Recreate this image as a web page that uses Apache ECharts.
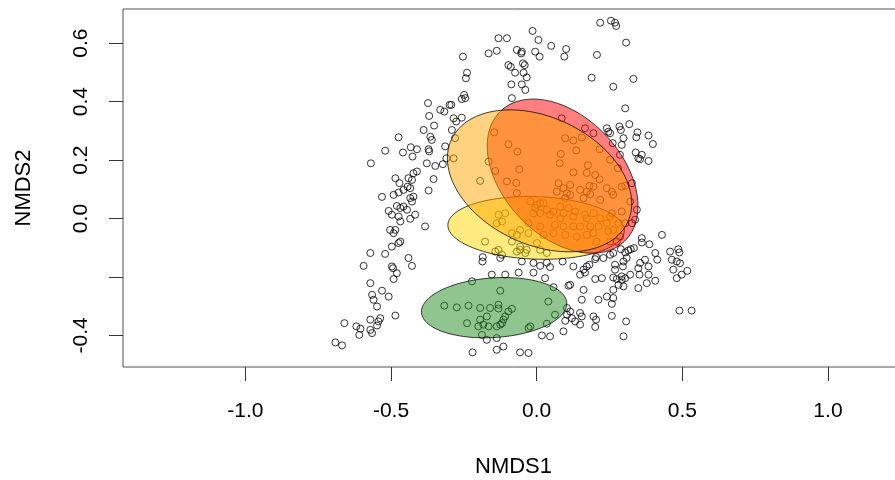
<!DOCTYPE html>
<html>
<head>
<meta charset="utf-8">
<title>NMDS ordination</title>
<script src="https://cdn.jsdelivr.net/npm/echarts@6/dist/echarts.min.js"></script>
<style>
  html, body { margin: 0; padding: 0; background: #fff; overflow: hidden; }
  #chart { width: 912px; height: 480px; }
</style>
</head>
<body>
<div id="chart"></div>
<script>
// Axis ticks and labels
const xTicks = [-1, -0.5, 0, 0.5, 1];
const yTicks = [-0.4, -0.2, 0, 0.2, 0.4, 0.6];
const yLabels = [-0.4, 0, 0.2, 0.4, 0.6];

// Site scores on NMDS1 / NMDS2
const siteScores = [
  // upper right
  [0.218,0.670],[0.255,0.677],[0.269,0.670],[0.273,0.659],[0.307,0.602],[0.207,0.560],
  [0.189,0.482],[0.263,0.451],[0.332,0.478],[0.304,0.377],
  // upper middle
  [-0.014,0.642],[0.006,0.611],[0.050,0.591],[0.101,0.580],[0.095,0.554],[-0.005,0.571],
  [0.010,0.554],[-0.068,0.577],[-0.051,0.571],[-0.053,0.565],[-0.131,0.617],[-0.102,0.617],
  [-0.137,0.574],[-0.165,0.565],[-0.253,0.554],[-0.239,0.499],[-0.243,0.480],[-0.097,0.525],
  [-0.089,0.519],[-0.047,0.531],[-0.041,0.525],[-0.074,0.499],[-0.045,0.499],[-0.034,0.483],
  [-0.087,0.459],[-0.051,0.459],[-0.039,0.440],[-0.085,0.412],[-0.249,0.423],[-0.245,0.412],
  // upper left
  [-0.373,0.395],[-0.331,0.372],[-0.317,0.366],[-0.369,0.351],[-0.299,0.389],[-0.293,0.389],
  [-0.257,0.409],[-0.285,0.343],[-0.257,0.345],[-0.276,0.332],[-0.291,0.303],[-0.352,0.318],
  [-0.388,0.303],[-0.365,0.280],[-0.360,0.269],[-0.474,0.278],[-0.520,0.232],[-0.432,0.244],
  [-0.411,0.237],[-0.459,0.226],[-0.426,0.212],[-0.371,0.237],[-0.369,0.230],[-0.314,0.247],
  [-0.569,0.189],[-0.377,0.189],[-0.348,0.180],[-0.322,0.186],[-0.310,0.206],[-0.285,0.206],
  [-0.280,0.275],[-0.411,0.161],[-0.423,0.155],[-0.354,0.135],[-0.485,0.138],[-0.471,0.121],
  [-0.440,0.138],[-0.428,0.132],[-0.443,0.109],[-0.434,0.104],[-0.457,0.098],[-0.491,0.081],
  [-0.371,0.096],[-0.531,0.074],[-0.434,0.070],[-0.428,0.058],[-0.474,0.089],[-0.480,0.043],
  [-0.457,0.041],[-0.445,0.030],[-0.508,0.026],[-0.497,0.013],[-0.474,0.007],[-0.417,0.013],
  [-0.434,-0.001],[-0.468,0.036],[-0.423,0.075],
  // lower left
  [-0.468,-0.010],[-0.383,-0.027],[-0.485,-0.039],[-0.503,-0.039],[-0.491,-0.050],[-0.468,-0.079],
  [-0.474,-0.084],[-0.497,-0.096],[-0.571,-0.118],[-0.520,-0.121],[-0.440,-0.135],[-0.428,-0.162],
  [-0.594,-0.162],[-0.497,-0.164],[-0.493,-0.170],[-0.480,-0.187],[-0.491,-0.207],[-0.571,-0.221],
  [-0.531,-0.247],[-0.565,-0.261],[-0.508,-0.267],[-0.560,-0.278],[-0.548,-0.301],[-0.485,-0.332],
  [-0.571,-0.346],[-0.537,-0.341],[-0.543,-0.352],[-0.548,-0.366],[-0.660,-0.358],[-0.619,-0.369],
  [-0.605,-0.377],[-0.571,-0.381],[-0.565,-0.392],[-0.609,-0.398],[-0.691,-0.424],[-0.668,-0.434],
  // lower middle
  [-0.185,-0.132],[-0.186,-0.147],[-0.125,-0.135],[-0.051,-0.147],[-0.011,-0.152],[0.012,-0.162],
  [0.046,-0.166],[-0.062,-0.185],[-0.011,-0.185],[-0.154,-0.192],[-0.108,-0.192],[-0.222,-0.215],
  [0.029,-0.204],[0.058,-0.235],[-0.125,-0.247],[-0.317,-0.298],[-0.274,-0.304],[-0.234,-0.298],
  [-0.194,-0.306],[-0.160,-0.306],[-0.131,-0.295],[-0.131,-0.308],[-0.085,-0.309],[-0.097,-0.318],
  [-0.108,-0.335],[-0.114,-0.346],[-0.119,-0.358],[-0.125,-0.363],[-0.137,-0.369],[-0.171,-0.335],
  [-0.194,-0.346],[-0.239,-0.358],[-0.200,-0.369],[-0.183,-0.363],[-0.165,-0.369],[-0.022,-0.369],
  [-0.028,-0.375],[0.035,-0.360],[0.063,-0.329],[0.040,-0.284],[-0.188,-0.398],[-0.171,-0.415],
  [-0.137,-0.409],[-0.114,-0.438],[-0.137,-0.449],[-0.220,-0.458],[-0.057,-0.458],[-0.028,-0.460],
  [0.018,-0.400],[0.046,-0.403],
  // lower right
  [0.430,-0.056],[0.361,-0.067],[0.361,-0.082],[0.387,-0.088],[0.334,-0.101],[0.323,-0.105],
  [0.315,-0.109],[0.304,-0.116],[0.289,-0.105],[0.263,-0.118],[0.252,-0.124],[0.229,-0.135],
  [0.204,-0.132],[0.201,-0.139],[0.309,-0.135],[0.298,-0.147],[0.269,-0.158],[0.355,-0.152],
  [0.372,-0.141],[0.384,-0.164],[0.407,-0.118],[0.414,-0.141],[0.458,-0.113],[0.486,-0.105],
  [0.490,-0.116],[0.464,-0.141],[0.481,-0.147],[0.492,-0.153],[0.469,-0.175],[0.517,-0.179],
  [0.498,-0.192],[0.481,-0.204],[0.349,-0.170],[0.353,-0.192],[0.384,-0.192],[0.407,-0.213],
  [0.378,-0.221],[0.349,-0.238],[0.321,-0.192],[0.304,-0.204],[0.292,-0.210],[0.292,-0.198],
  [0.275,-0.207],[0.263,-0.202],[0.281,-0.227],[0.298,-0.232],[0.263,-0.244],[0.224,-0.204],
  [0.201,-0.207],[0.296,-0.164],[0.269,-0.175],[0.126,-0.164],[0.161,-0.175],[0.172,-0.164],
  [0.166,-0.185],[0.149,-0.192],[0.115,-0.227],[0.161,-0.244],[0.155,-0.278],[0.212,-0.278],
  [0.241,-0.267],[0.263,-0.272],[0.258,-0.292],[0.115,-0.318],[0.104,-0.329],[0.121,-0.341],
  [0.132,-0.352],[0.149,-0.323],[0.155,-0.335],[0.149,-0.363],[0.195,-0.335],[0.204,-0.346],
  [0.201,-0.371],[0.258,-0.333],[0.307,-0.352],[0.298,-0.403],[0.490,-0.315],[0.532,-0.315],
  [0.098,-0.350],[0.092,-0.386],[0.109,-0.230],[0.181,-0.158],[0.089,-0.147],[0.104,-0.306],
  // right, beside the red group
  [0.241,0.309],[0.246,0.297],[0.284,0.315],[0.289,0.303],[0.318,0.323],[0.346,0.295],
  [0.342,0.278],[0.298,0.275],[0.292,0.252],[0.340,0.226],[0.349,0.206],[0.252,0.292],
  [0.384,0.284],[0.399,0.255],[0.361,0.218],[0.355,0.203],[0.384,0.197],[0.286,0.218],
  // centre
  [-0.097,0.254],[-0.066,0.229],[-0.146,0.295],[-0.165,0.195],[-0.142,0.163],[-0.060,0.168],
  [-0.194,0.129],[-0.102,0.127],[-0.070,0.122],[0.086,0.343],[0.166,0.309],[0.195,0.292],
  [0.098,0.275],[0.126,0.267],[0.155,0.277],[0.136,0.233],[0.083,0.221],[0.079,0.189],
  [0.126,0.158],[0.176,0.182],[0.172,0.156],[0.201,0.149],[0.216,0.134],[0.216,0.237],
  [0.279,0.172],[0.252,0.201],[0.261,0.258],[-0.068,0.087],[0.075,0.121],[0.092,0.104],
  [0.104,0.087],[0.069,0.092],[0.115,0.115],[0.149,0.098],[0.172,0.092],[0.184,0.083],
  [0.241,0.104],[0.258,0.092],[0.292,0.109],[0.304,0.112],[0.263,0.081],[0.195,0.109],
  [0.181,0.112],[0.327,0.121],[0.321,0.058],[0.115,0.081],[0.098,0.070],[0.161,0.070],
  [0.218,0.064],[0.081,0.041],[0.109,0.036],[0.132,0.024],[0.092,0.018],[0.046,0.013],
  [0.035,0.030],[0.023,0.053],[0.166,0.013],[0.195,0.018],[0.218,0.001],[0.258,0.018],
  [0.292,0.024],[0.281,-0.016],[0.304,-0.016],[0.241,-0.016],[0.212,-0.027],[0.184,-0.027],
  [0.149,-0.027],[0.126,-0.027],[0.092,-0.027],[0.063,-0.022],[0.058,-0.050],[0.098,-0.056],
  [0.138,-0.062],[0.195,-0.050],[0.246,-0.044],[0.327,-0.016],[0.344,0.030],[0.338,-0.004],
  [0.035,-0.151],[-0.022,0.058],[0.012,0.053],[-0.005,0.036],[0.012,0.018],[-0.131,0.013],
  [-0.108,0.018],[-0.119,-0.010],[-0.137,-0.016],[-0.057,-0.039],[-0.028,-0.050],[-0.068,-0.056],
  [-0.085,-0.050],[0.012,-0.027],[0.023,-0.056],[0.001,-0.084],[-0.177,-0.079],[-0.131,-0.107],
  [-0.142,-0.113],[-0.119,-0.124],[-0.085,-0.079],[-0.057,-0.096],[-0.034,-0.107],[-0.039,-0.118],
  [-0.057,-0.107],[-0.068,-0.113],[0.012,-0.107],[0.035,-0.118],[-0.028,-0.016],[-0.011,0.018],
  [0.001,0.047],[0.058,0.024],[0.081,0.001],[0.126,0.007],[0.172,0.001],[0.252,0.007],
  [0.263,-0.039],[0.172,-0.056],[0.206,-0.079],[0.252,-0.079],[0.275,-0.079],[0.286,-0.062]
];

// Group dispersion ellipses: centre, semi-axes, rotation (degrees), fill
const ellipseCenters = [[-0.146, -0.305], [-0.002, -0.032], [0.089, 0.145], [0.010, 0.129]];
const ellipseAxes    = [[0.250, 0.102], [0.303, 0.107], [0.308, 0.204], [0.334, 0.218]];
const ellipseAngles  = [3.8, -2, -46.4, -25];
const ellipseColors  = ['rgba(34,139,34,0.5)', 'rgba(255,215,0,0.5)', 'rgba(255,0,0,0.5)', 'rgba(255,165,0,0.5)'];

const ellipseData = ellipseCenters.map((c, i) =>
  [c[0], c[1], ellipseAxes[i][0], ellipseAxes[i][1], ellipseAngles[i], i]);

const FONT = 'Liberation Sans, Arial, sans-serif';

const chart = echarts.init(document.getElementById('chart'), null, { renderer: 'canvas' });

chart.setOption({
  animation: false,
  backgroundColor: '#ffffff',
  grid: {
    left: 123, top: 9, width: 781, height: 358,
    outerBoundsMode: 'none', containLabel: false,
    show: true, borderColor: '#555', borderWidth: 1, backgroundColor: 'transparent'
  },
  xAxis: {
    type: 'value', min: -1.42, max: 1.261,
    name: 'NMDS1', nameLocation: 'middle', nameGap: 89,
    nameTextStyle: { fontFamily: FONT, fontSize: 22, color: '#000' },
    axisLine: { show: false, onZero: false },
    splitLine: { show: false },
    axisTick: { show: true, length: 14, customValues: xTicks, lineStyle: { color: '#333', width: 1 } },
    axisLabel: { customValues: xTicks, margin: 34, fontFamily: FONT, fontSize: 21, color: '#000',
                 formatter: v => v.toFixed(1) }
  },
  yAxis: {
    type: 'value', min: -0.508, max: 0.717,
    name: 'NMDS2', nameLocation: 'middle', nameGap: 88, nameRotate: 90,
    nameTextStyle: { fontFamily: FONT, fontSize: 22, color: '#000' },
    axisLine: { show: false, onZero: false },
    splitLine: { show: false },
    axisTick: { show: true, length: 14, customValues: yTicks, lineStyle: { color: '#333', width: 1 } },
    axisLabel: { customValues: yLabels, rotate: 90, margin: 31, fontFamily: FONT, fontSize: 21, color: '#000',
                 formatter: v => v.toFixed(1) }
  },
  series: [
    {
      type: 'scatter',
      data: siteScores,
      symbol: 'circle',
      symbolSize: 7,
      z: 2,
      itemStyle: { color: 'rgba(0,0,0,0)', borderColor: '#000', borderWidth: 1 }
    },
    {
      type: 'custom',
      data: ellipseData,
      z: 3,
      encode: { x: 0, y: 1 },
      renderItem: function (params, api) {
        const cx = api.value(0), cy = api.value(1);
        const a = api.value(2), b = api.value(3);
        const th = api.value(4) * Math.PI / 180;
        const idx = api.value(5);
        const pts = [];
        for (let k = 0; k < 120; k++) {
          const t = 2 * Math.PI * k / 120;
          const ex = a * Math.cos(t), ey = b * Math.sin(t);
          pts.push(api.coord([cx + ex * Math.cos(th) - ey * Math.sin(th),
                              cy + ex * Math.sin(th) + ey * Math.cos(th)]));
        }
        return {
          type: 'polygon',
          shape: { points: pts },
          style: { fill: ellipseColors[idx], stroke: 'rgba(0,0,0,0.75)', lineWidth: 1 }
        };
      }
    }
  ]
});
</script>
</body>
</html>
